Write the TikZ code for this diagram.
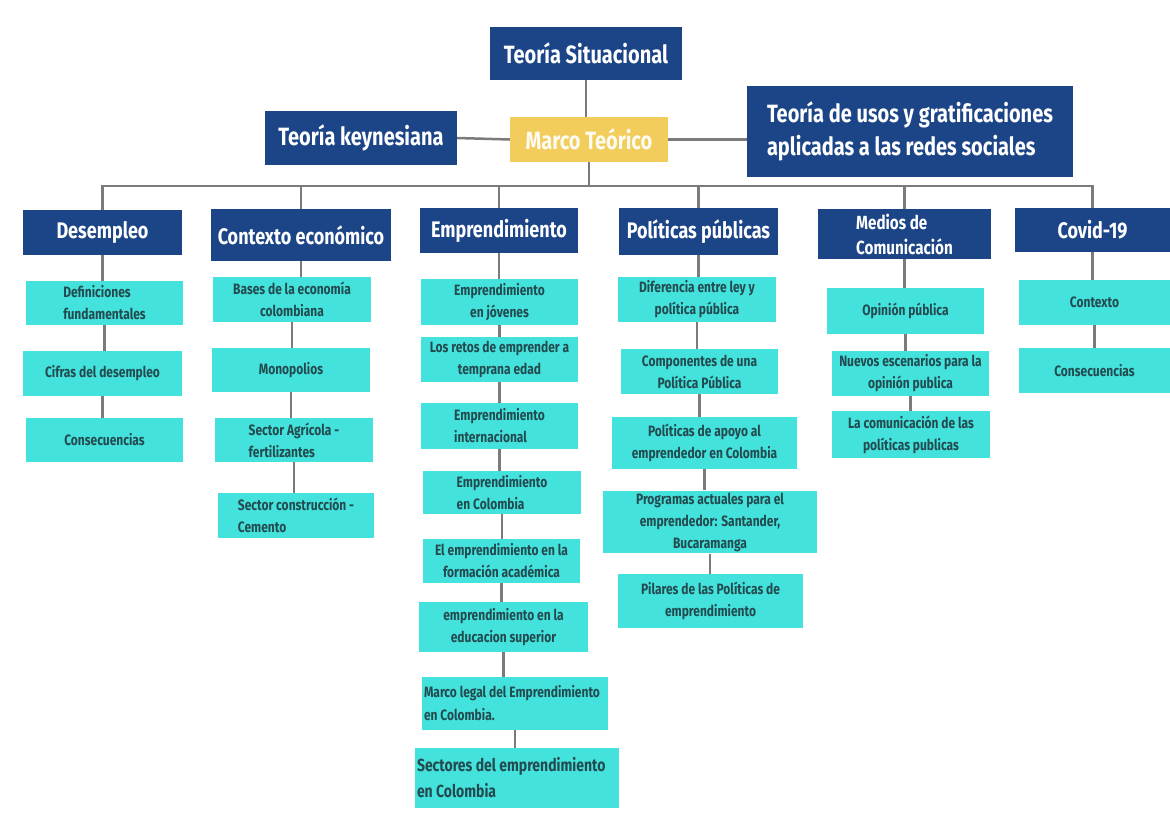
\documentclass[tikz,border=0pt]{standalone}
\usepackage{fontspec}
\setmainfont{Fira Sans}[FakeStretch=0.8]
\usepackage{tikz}
\usetikzlibrary{positioning}
\usetikzlibrary{calc}
\definecolor{navy}{HTML}{1C4587}
\definecolor{aqua}{HTML}{44E2DC}
\definecolor{gold}{HTML}{F2CD5C}
\definecolor{wire}{HTML}{7B7B7B}
\definecolor{ink}{HTML}{234B4F}

\begin{document}
\begin{tikzpicture}[x=1pt,y=-1pt,
    head/.style={fill=navy,text=white,inner sep=2pt,align=center,
                 font=\bfseries\fontsize{22.5}{25}\selectfont},
    top/.style={head,font=\bfseries\fontsize{25}{33}\selectfont},
    leaf/.style={fill=aqua,text=ink,inner sep=2pt,align=center,
                 font=\bfseries\fontsize{15}{22}\selectfont},
    sz/.style 2 args={minimum width=#1pt,minimum height=#2pt},
    link/.style={draw=wire,line width=2.5pt}]

  \useasboundingbox[fill=white] (0,0) rectangle (1170,823);

  % top row
  \node[top,sz={192}{53}] (sit) at (586,53.5) {Teoría Situacional};
  \node[top,sz={192}{54}] (key) at (361,138) {Teoría keynesiana};
  \node[top,sz={158}{45},fill=gold,text=white!92!gold] (marco) at (589,139.5) {Marco Teórico};
  \node[top,sz={326}{91},align=left] (usos) at (910,131.5)
    {Teoría de usos y gratificaciones\\aplicadas a las redes sociales};

  % column heads
  \node[head,sz={159}{45}] (desemp) at (102.5,232.5) {Desempleo};
  \node[head,sz={180}{52}] (contexto) at (301,235) {Contexto económico};
  \node[head,sz={158}{45}] (empr) at (499,230.5) {Emprendimiento};
  \node[head,sz={159}{47}] (polit) at (698.5,231.5) {Políticas públicas};
  \node[head,sz={173}{50},align=left,font=\bfseries\fontsize{19}{25}\selectfont] (medios) at (904.5,234) {Medios de\\Comunicación};
  \node[head,sz={155}{44}] (covid) at (1092.5,230) {Covid-19};

  % Desempleo
  \node[leaf,sz={157}{44},align=left] (d1) at (104.5,303) {Definiciones\\fundamentales};
  \node[leaf,sz={159}{45}] (d2) at (102.5,373.5) {Cifras del desempleo};
  \node[leaf,sz={157}{44}] (d3) at (104.5,440) {Consecuencias};

  % Contexto economico
  \node[leaf,sz={158}{45}] (c1) at (292,299.5) {Bases de la economía\\colombiana};
  \node[leaf,sz={158}{44}] (c2) at (291,370) {Monopolios};
  \node[leaf,sz={158}{44},align=left] (c3) at (294,440) {Sector Agrícola -\\fertilizantes};
  \node[leaf,sz={156}{45},align=left] (c4) at (296,515.5) {Sector construcción -\\Cemento};

  % Emprendimiento
  \node[leaf,sz={157}{46}] (e1) at (499.5,302) {Emprendimiento\\en jóvenes};
  \node[leaf,sz={157}{45}] (e2) at (499.5,359.5) {Los retos de emprender a\\temprana edad};
  \node[leaf,sz={157}{46},align=left] (e3) at (499.5,426) {Emprendimiento\\internacional};
  \node[leaf,sz={158}{43},align=left] (e4) at (502,492.5) {Emprendimiento\\en Colombia};
  \node[leaf,sz={157}{44}] (e5) at (501.5,561) {El emprendimiento en la\\formación académica};
  \node[leaf,sz={169}{50}] (e6) at (503.5,627) {emprendimiento en la\\educacion superior};
  \node[leaf,sz={186}{53},text width=182pt,align=flush left,font=\bfseries\fontsize{15}{23}\selectfont] (e7) at (515,703.5)
    {Marco legal del Emprendimiento\\en Colombia.};
  \node[leaf,sz={204}{60},text width=200pt,align=flush left,font=\bfseries\fontsize{17.5}{26}\selectfont] (e8) at (517,778)
    {Sectores del emprendimiento\\en Colombia};

  % Politicas publicas
  \node[leaf,sz={158}{45}] (p1) at (697,299.5) {Diferencia entre ley y\\política pública};
  \node[leaf,sz={157}{45}] (p2) at (699.5,371.5) {Componentes de una\\Política Pública};
  \node[leaf,sz={185}{52}] (p3) at (704.5,443) {Políticas de apoyo al\\emprendedor en Colombia};
  \node[leaf,sz={214}{60}] (p4) at (710,522) {Programas actuales para el\\emprendedor: Santander,\\Bucaramanga};
  \node[leaf,sz={185}{54}] (p5) at (710.5,601) {Pilares de las Políticas de\\emprendimiento};

  % Medios de comunicacion
  \node[leaf,sz={157}{46}] (m1) at (905.5,311) {Opinión pública};
  \node[leaf,sz={157}{45}] (m2) at (910.5,373.5) {Nuevos escenarios para la\\opinión publica};
  \node[leaf,sz={158}{47}] (m3) at (911,434.5) {La comunicación de las\\políticas publicas};

  % Covid-19
  \node[leaf,sz={151}{45}] (v1) at (1094.5,302.5) {Contexto};
  \node[leaf,sz={151}{45}] (v2) at (1094.5,370.5) {Consecuencias};

  % connectors
  \coordinate (bus) at (592,186);
  \draw[link] (sit.south) -- (sit.south |- marco.north);
  \draw[link] (key.east) -- (marco.west);
  \draw[link] (marco.east) -- (marco.east -| usos.west);
  \draw[link] (marco.south) -- (marco.south |- bus);
  \draw[link] (desemp.north) -- (desemp.north |- bus) -- (covid.north |- bus) -- (covid.north);
  \foreach \h in {contexto,empr,polit,medios}
    \draw[link] (\h.north) -- (\h.north |- bus);
  \foreach \a/\b in {desemp/d1,d1/d2,d2/d3,
                     contexto/c1,c1/c2,c2/c3,c3/c4,
                     empr/e1,e1/e2,e2/e3,e3/e4,e4/e5,e5/e6,e6/e7,e7/e8,
                     polit/p1,p1/p2,p2/p3,p3/p4,p4/p5,
                     medios/m1,m1/m2,m2/m3,
                     covid/v1,v1/v2}
    \draw[link] (\a.south) -- (\a.south |- \b.north);
\end{tikzpicture}
\end{document}
